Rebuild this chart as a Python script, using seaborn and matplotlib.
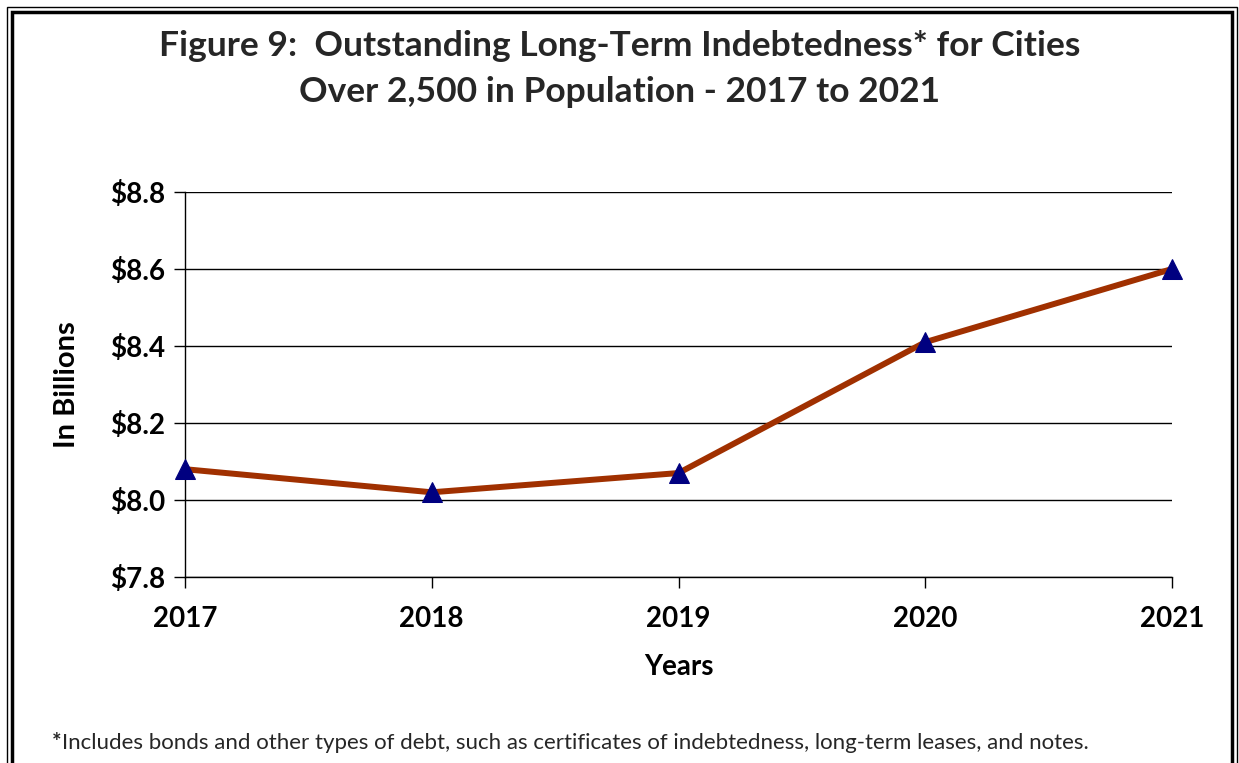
import matplotlib
matplotlib.use("Agg")
import matplotlib.pyplot as plt
import seaborn as sns
import pandas as pd
from matplotlib.patches import Rectangle

# data
years = ["2017", "2018", "2019", "2020", "2021"]
debt_billions = [8.08, 8.02, 8.07, 8.41, 8.60]
y_ticks = [7.8, 8.0, 8.2, 8.4, 8.6, 8.8]

df = pd.DataFrame({"year": years, "debt": debt_billions})

sns.set_theme(style="white")
plt.rcParams["font.family"] = ["Lato", "DejaVu Sans"]

fig = plt.figure(figsize=(12.39, 7.63), dpi=100)
ax = fig.add_axes([185 / 1239, 1 - 577 / 763, (1172 - 185) / 1239, (577 - 192) / 763])

sns.lineplot(data=df, x="year", y="debt", ax=ax, color="#a03000", linewidth=4.3,
             marker="^", markersize=14, markerfacecolor="#000080",
             markeredgecolor="#000080", sort=False, clip_on=False, zorder=5)

ax.set_xlim(0, len(years) - 1)
ax.set_ylim(7.8, 8.8)
ax.set_yticks(y_ticks)
ax.set_yticklabels([f"${v:.1f}" for v in y_ticks])
ax.yaxis.grid(True, color="black", linewidth=1)
ax.xaxis.grid(False)
ax.set_axisbelow(True)

for side in ["top", "right"]:
    ax.spines[side].set_visible(False)
for side in ["left", "bottom"]:
    ax.spines[side].set_color("black")
    ax.spines[side].set_linewidth(1)

ax.tick_params(axis="both", which="both", direction="out", length=8, width=1,
               color="black", labelsize=20, bottom=True, left=True)
ax.tick_params(axis="x", pad=13)
ax.tick_params(axis="y", pad=6)
for lab in ax.get_xticklabels() + ax.get_yticklabels():
    lab.set_fontweight("bold")
    lab.set_color("black")

ax.set_xlabel("Years", fontsize=20, fontweight="bold", labelpad=16, color="black")
ax.set_ylabel("In Billions", fontsize=21, fontweight="bold", labelpad=22, color="black")

fig.text(0.5, 1 - 69 / 763,
         "Figure 9:  Outstanding Long-Term Indebtedness* for Cities\nOver 2,500 in Population - 2017 to 2021",
         ha="center", va="center", fontsize=25.5, fontweight="bold", linespacing=1.5)

fig.text(52 / 1239, 1 - 743 / 763, "*", fontsize=16, fontweight="bold", ha="left", va="center")
fig.text(62 / 1239, 1 - 743 / 763,
         "Includes bonds and other types of debt, such as certificates of indebtedness, long-term leases, and notes.",
         fontsize=16, ha="left", va="center")

# double frame around the figure
fig.patches.append(Rectangle((7 / 1239, -0.01), (1237 - 7) / 1239, 1 - 7 / 763 + 0.01,
                             transform=fig.transFigure, fill=False, edgecolor="black", linewidth=1))
fig.patches.append(Rectangle((12 / 1239, -0.01), (1232 - 12) / 1239, 1 - 12 / 763 + 0.01,
                             transform=fig.transFigure, fill=False, edgecolor="black", linewidth=2.5))

fig.savefig("out.png", dpi=100)
